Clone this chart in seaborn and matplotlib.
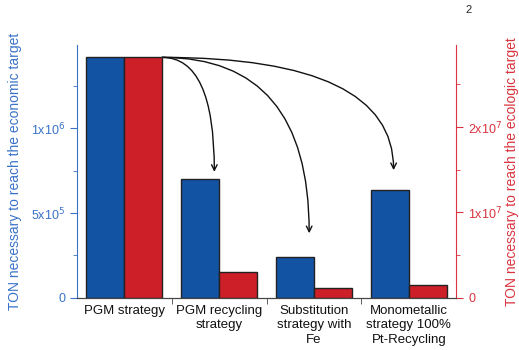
import numpy as np
import pandas as pd
import seaborn as sns
import matplotlib.pyplot as plt
from matplotlib.ticker import MultipleLocator, FuncFormatter, FixedLocator

sns.set_style('ticks')
plt.rcParams['font.family'] = ['Liberation Sans', 'DejaVu Sans']

categories = ['PGM strategy', 'PGM recycling\nstrategy', 'Substitution\nstrategy with\nFe',
              'Monometallic\nstrategy 100%\nPt-Recycling']
econ_ton = [1.418e6, 6.98e5, 2.41e5, 6.33e5]
eco_ton = [2.82e7, 3.0e6, 1.2e6, 1.52e6]
series = ['economic', 'ecologic']

blue = '#1253A4'
red = '#CC1F27'
blue_axis = '#3A72C8'
red_axis = '#D9343F'

df = pd.DataFrame({
    'strategy': categories * 2,
    'series': ['economic'] * 4 + ['ecologic'] * 4,
    'ton': econ_ton + eco_ton,
})

fig = plt.figure(figsize=(5.19, 3.5), dpi=100)
ax = fig.add_axes([0.148, 0.149, 0.731, 0.722])
ax2 = ax.twinx()

pal = {'economic': blue, 'ecologic': red}
sns.barplot(data=df[df.series == 'economic'], x='strategy', y='ton', hue='series',
            hue_order=series, palette=pal, order=categories, dodge=True, saturation=1,
            edgecolor='#222222', linewidth=1, legend=False, ax=ax)
sns.barplot(data=df[df.series == 'ecologic'], x='strategy', y='ton', hue='series',
            hue_order=series, palette=pal, order=categories, dodge=True, saturation=1,
            edgecolor='#222222', linewidth=1, legend=False, ax=ax2)

ax.set_xlim(-0.5, 3.5)
ax.set_ylim(0, 1.49e6)
ax2.set_ylim(0, 2.96e7)


def sci(v, pos):
    if v <= 0:
        return '0'
    e = int(np.floor(np.log10(v)))
    m = v / 10 ** e
    return r'%gx10$^{%d}$' % (m, e)


ax.yaxis.set_major_locator(MultipleLocator(5e5))
ax.yaxis.set_minor_locator(MultipleLocator(2.5e5))
ax.yaxis.set_major_formatter(FuncFormatter(sci))
ax2.yaxis.set_major_locator(MultipleLocator(1e7))
ax2.yaxis.set_minor_locator(MultipleLocator(5e6))
ax2.yaxis.set_major_formatter(FuncFormatter(sci))

ax.set_xlabel('')
ax.set_ylabel('TON necessary to reach the economic target', color=blue_axis, fontsize=10, labelpad=6)
ax2.set_ylabel('TON necessary to reach the ecologic target', color=red_axis, fontsize=10, labelpad=2)
ax2.set_xlabel('')

ax.tick_params(axis='y', which='both', colors=blue_axis, labelsize=9, direction='out')
ax.tick_params(axis='y', which='major', length=5)
ax.tick_params(axis='y', which='minor', length=3)
ax2.tick_params(axis='y', which='both', colors=red_axis, labelsize=9, direction='out')
ax2.tick_params(axis='y', which='major', length=5)
ax2.tick_params(axis='y', which='minor', length=3)

ax.xaxis.set_minor_locator(FixedLocator([0.5, 1.5, 2.5]))
ax.tick_params(axis='x', which='major', length=0, labelsize=9.5, pad=5, colors='#111111')
ax.tick_params(axis='x', which='minor', length=4, color='#444444')
for lab in ax.get_xticklabels():
    lab.set_linespacing(1.3)

for a in (ax, ax2):
    a.spines['top'].set_visible(False)
    a.spines['bottom'].set_color('#444444')
ax.spines['left'].set_color(blue_axis)
ax.spines['right'].set_visible(False)
ax2.spines['left'].set_visible(False)
ax2.spines['right'].set_color(red_axis)

# curved arrows from the top of the first pair of bars
start = (0.4, econ_ton[0])
targets = [(0.95, econ_ton[1] + 0.45e5), (1.95, econ_ton[2] + 1.4e5), (2.84, econ_ton[3] + 1.2e5)]
for tx, ty in targets:
    ax.annotate('', xy=(tx, ty), xytext=start,
                arrowprops=dict(arrowstyle='->', color='#111111', lw=1,
                                connectionstyle='angle3,angleA=0,angleB=90',
                                shrinkA=0, shrinkB=0))

fig.text(0.902, 0.985, '2', fontsize=8, ha='center', va='top')

fig.savefig('out.png', dpi=100)
